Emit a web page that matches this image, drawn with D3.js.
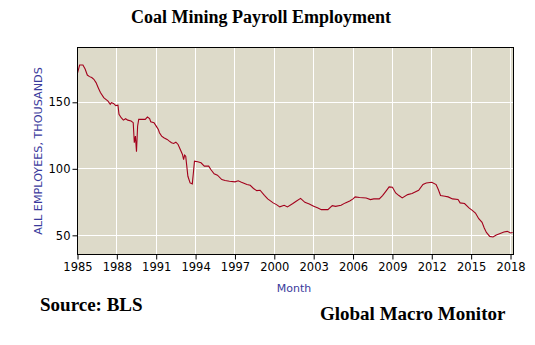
<!DOCTYPE html>
<html>
<head>
<meta charset="utf-8">
<script src="https://cdn.jsdelivr.net/npm/d3@7"></script>
<style>
  html, body { margin: 0; padding: 0; background: #ffffff; }
  svg { display: block; }
</style>
</head>
<body>
<svg id="chart" width="535" height="345"></svg>
<script>
// ---- data ----
const months = [
  "1985-01","1985-03","1985-06","1985-08","1985-10","1985-12",
  "1986-02","1986-04","1986-06","1986-08","1986-10",
  "1987-01","1987-03","1987-05","1987-07","1987-08","1987-10","1987-12",
  "1988-02","1988-03","1988-05","1988-07","1988-09","1988-11",
  "1989-02","1989-04","1989-05","1989-06","1989-07","1989-08","1989-09",
  "1990-03","1990-05","1990-07","1990-08","1990-11",
  "1991-01","1991-03","1991-04","1991-06","1991-08","1991-11",
  "1992-01","1992-03","1992-05","1992-07","1992-09","1992-11",
  "1993-01","1993-02","1993-03","1993-04","1993-05","1993-06","1993-08","1993-10","1993-11","1993-12",
  "1994-03","1994-06","1994-09",
  "1995-01","1995-03","1995-06","1995-09",
  "1996-01","1996-04","1996-08",
  "1997-01","1997-04","1997-07","1997-12",
  "1998-03","1998-06","1998-09","1998-12",
  "1999-04","1999-07","1999-12",
  "2000-03","2000-06","2000-10",
  "2001-01","2001-06","2001-09",
  "2002-01","2002-05","2002-09",
  "2003-01","2003-05","2003-08",
  "2004-02","2004-06","2004-09",
  "2005-02","2005-06","2005-10",
  "2006-01","2006-03","2006-07",
  "2007-01","2007-05","2007-08",
  "2008-01","2008-04","2008-07","2008-10",
  "2009-01","2009-04","2009-07","2009-10",
  "2010-03","2010-07",
  "2011-01","2011-05","2011-08",
  "2012-01","2012-05","2012-07","2012-09",
  "2013-01","2013-04","2013-08",
  "2014-01","2014-03","2014-07","2014-11",
  "2015-02","2015-05","2015-08","2015-11",
  "2016-01","2016-03","2016-06","2016-09","2016-12",
  "2017-03","2017-07","2017-10",
  "2018-01","2018-03"
];
const employees = [
  172,178,178,175,170.5,169.3,
  168.6,167.3,164.8,161,157.3,
  153.5,152.2,150.9,148.5,149.7,149.2,147.5,
  147.9,140.9,138.4,136.6,137.7,136.6,
  135.9,134.7,119.6,124.6,112.8,132,137.2,
  137.2,138.9,137.7,135.4,134.7,
  132.1,129.6,127.1,124.6,123.4,122.1,
  120.8,119.6,119.1,120,118.3,114.5,
  110.8,107,110.3,109.5,102,94.4,89.4,88.7,97,105.7,
  105.3,104.5,102,
  102,99.5,96.2,95.2,
  91.9,91.2,90.7,
  90.2,91,89.9,88.2,
  87.6,85.2,83.6,83.9,
  80.1,77.4,74.4,
  73.1,71.4,72.6,
  71.4,73.9,75.6,
  77.8,74.8,73.6,
  71.8,70.6,69.3,
  69.3,72.3,71.8,
  72.6,74.4,75.8,
  77.4,78.9,78.4,
  78.1,76.9,77.4,
  77.4,79.9,83.1,86.4,
  86.1,81.9,79.9,78.1,
  80.6,81.4,
  83.9,88.2,89.4,
  89.9,88.2,84.4,79.9,
  79.4,78.9,77.4,
  76.9,74.4,73.9,70.6,
  68.8,66.8,62.5,59.8,
  55.5,52.2,49.2,48.8,50.3,
  51.2,52.5,53,
  51.8,52.2
];
const xTickYears = [1985,1988,1991,1994,1997,2000,2003,2006,2009,2012,2015,2018];
const yTicks = [50,100,150];
const titleText = "Coal Mining Payroll Employment";
const yLabel = "ALL EMPLOYEES, THOUSANDS";
const xLabel = "Month";
const sourceText = "Source: BLS";
const brandText = "Global Macro Monitor";

// ---- layout ----
const L = 77.5, R = 513.5, T = 47.5, B = 254.5;
const parse = d3.timeParse("%Y-%m");
const data = months.map((m, i) => ({ date: parse(m), value: employees[i] }));

const svg = d3.select("#chart");

const x = d3.scaleTime()
  .domain([new Date(1985, 0, 1), new Date(2018, 2, 25)])
  .range([L, R]);
const y = d3.scaleLinear()
  .domain([35.6, 191.2])
  .range([B, T]);

const tickDates = xTickYears.map(yr => new Date(yr, 0, 1));
const snap = v => Math.round(v - 0.5) + 0.5;

// plot background
svg.append("rect")
  .attr("x", L).attr("y", T)
  .attr("width", R - L).attr("height", B - T)
  .attr("fill", "#dddac9");

// gridlines
svg.append("g").selectAll("line.vg").data(tickDates).join("line")
  .attr("x1", d => snap(x(d))).attr("x2", d => snap(x(d)))
  .attr("y1", T).attr("y2", B)
  .attr("stroke", "#ffffff").attr("stroke-width", 1);
svg.append("g").selectAll("line.hg").data(yTicks).join("line")
  .attr("x1", L).attr("x2", R)
  .attr("y1", d => snap(y(d))).attr("y2", d => snap(y(d)))
  .attr("stroke", "#ffffff").attr("stroke-width", 1);

// line
const line = d3.line()
  .x(d => x(d.date))
  .y(d => y(d.value));
svg.append("path")
  .datum(data)
  .attr("fill", "none")
  .attr("stroke", "#a3001c")
  .attr("stroke-width", 1.1)
  .attr("d", line);

// frame
svg.append("rect")
  .attr("x", L).attr("y", T)
  .attr("width", R - L).attr("height", B - T)
  .attr("fill", "none").attr("stroke", "#000000").attr("stroke-width", 1);

// axes
const xAxis = d3.axisBottom(x)
  .tickValues(tickDates)
  .tickFormat(d3.timeFormat("%Y"))
  .tickSizeInner(5).tickSizeOuter(0).tickPadding(3);
const gx = svg.append("g")
  .attr("transform", `translate(0,${B})`)
  .call(xAxis);
gx.select(".domain").remove();
gx.selectAll("line").attr("stroke", "#000");
gx.selectAll("text")
  .attr("font-family", "'DejaVu Sans', sans-serif")
  .attr("font-size", "11.5px")
  .attr("fill", "#000");

const yAxis = d3.axisLeft(y)
  .tickValues(yTicks)
  .tickSizeInner(5).tickSizeOuter(0).tickPadding(2);
const gy = svg.append("g")
  .attr("transform", `translate(${L},0)`)
  .call(yAxis);
gy.select(".domain").remove();
gy.selectAll("line").attr("stroke", "#000");
gy.selectAll("text")
  .attr("font-family", "'DejaVu Sans', sans-serif")
  .attr("font-size", "11.5px")
  .attr("fill", "#000");

// texts
svg.append("text")
  .attr("x", 261).attr("y", 23)
  .attr("text-anchor", "middle")
  .attr("font-family", "'Liberation Serif', 'Times New Roman', serif")
  .attr("font-weight", "bold")
  .attr("font-size", "18px")
  .attr("fill", "#000")
  .text(titleText);

svg.append("text")
  .attr("transform", `translate(42,${(T + B) / 2}) rotate(-90)`)
  .attr("text-anchor", "middle")
  .attr("font-family", "'DejaVu Sans', sans-serif")
  .attr("font-size", "11.2px")
  .attr("fill", "#3a3a9c")
  .text(yLabel);

svg.append("text")
  .attr("x", 294).attr("y", 292)
  .attr("text-anchor", "middle")
  .attr("font-family", "'DejaVu Sans', sans-serif")
  .attr("font-size", "11px")
  .attr("fill", "#3a3a9c")
  .text(xLabel);

svg.append("text")
  .attr("x", 40).attr("y", 311)
  .attr("font-family", "'Liberation Serif', 'Times New Roman', serif")
  .attr("font-weight", "bold")
  .attr("font-size", "19px")
  .attr("fill", "#000")
  .text(sourceText);

svg.append("text")
  .attr("x", 320).attr("y", 320)
  .attr("font-family", "'Liberation Serif', 'Times New Roman', serif")
  .attr("font-weight", "bold")
  .attr("font-size", "19px")
  .attr("fill", "#000")
  .text(brandText);
</script>
</body>
</html>
